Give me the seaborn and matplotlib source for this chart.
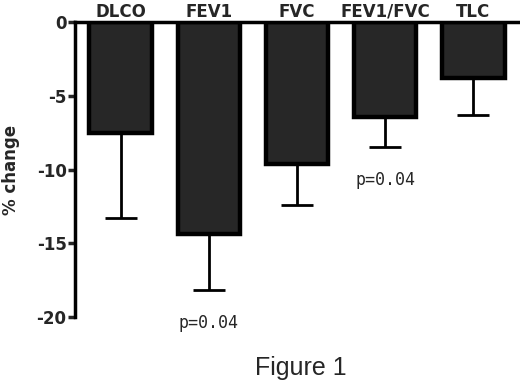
import matplotlib.pyplot as plt
import pandas as pd
import seaborn as sns

# values
tests = ['DLCO', 'FEV1', 'FVC', 'FEV1/FVC', 'TLC']
pct_change = [-7.5, -14.35, -9.6, -6.45, -3.8]
err_low = [5.8, 3.85, 2.8, 2.05, 2.5]
p_labels = ['', 'p=0.04', '', 'p=0.04', '']

data = pd.DataFrame({'test': tests, 'change': pct_change})

sns.set_style('white')
plt.rcParams['font.family'] = ['DejaVu Sans']

fig = plt.figure(figsize=(5.2, 3.81), dpi=100, facecolor='white')
ax = fig.add_axes([0.144, 0.168, 0.856, 0.774])

sns.barplot(x='test', y='change', data=data, order=tests, color='#272727',
            edgecolor='black', linewidth=3.2, width=0.71, errorbar=None,
            saturation=1, ax=ax)

# one-sided error bars (downwards only), as in the original
ax.errorbar(range(len(tests)), pct_change, yerr=[err_low, [0] * len(tests)],
            fmt='none', ecolor='black', elinewidth=2, capsize=11.5, capthick=2)

for i, (v, e, p) in enumerate(zip(pct_change, err_low, p_labels)):
    if p:
        ax.text(i, v - e - 1.6, p, ha='center', va='top', fontsize=12,
                family='DejaVu Sans Mono')

ax.set_ylim(-20, 0)
ax.set_xlim(-0.52, 4.53)
ax.set_yticks([0, -5, -10, -15, -20])
ax.set_yticklabels(['0', '-5', '-10', '-15', '-20'], fontsize=12, fontweight='bold')
ax.xaxis.tick_top()
ax.set_xticklabels(tests, fontsize=12, fontweight='bold')
ax.tick_params(axis='x', length=0, pad=1)
ax.tick_params(axis='y', left=True, length=5, width=2.5, pad=1)
ax.set_xlabel('')
ax.set_ylabel('% change', fontsize=12, fontweight='bold', labelpad=12)

ax.spines['bottom'].set_visible(False)
ax.spines['right'].set_visible(False)
for s in ['left', 'top']:
    ax.spines[s].set_linewidth(2.5)
    ax.spines[s].set_color('black')

fig.text(0.579, 0.016, 'Figure 1', ha='center', va='baseline', fontsize=18,
         family='Liberation Sans')

plt.savefig('out.png', dpi=100)
